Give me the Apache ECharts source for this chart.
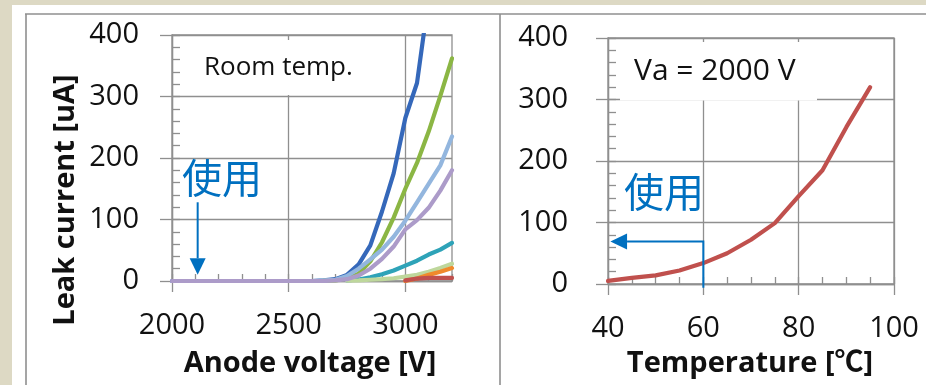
<!DOCTYPE html>
<html><head><meta charset="utf-8">
<script src="https://cdn.jsdelivr.net/npm/echarts@6/dist/echarts.min.js"></script>
<style>html,body{margin:0;padding:0;background:#fff}#c{width:926px;height:385px}</style>
</head><body><div id="c"></div>
<script>
// ---- Left chart data (Room temp.) ----
const voltage = [2000,2050,2100,2150,2200,2250,2300,2350,2400,2450,2500,2550,2600,2650,2700,2750,2800,2850,2900,2950,3000,3050,3100,3150,3200];
const n = null;
const leakBlue      = [0,0,0,0,0,0,n,n,n,n,n,n,0,1,3,10,27,58,113,175,265,322,460,n,n];
const leakGreen     = [n,n,n,n,n,n,n,n,n,n,n,n,n,0.5,1,4,12,32,63,103,150,192,243,301,362];
const leakLightBlue = [n,n,n,n,n,n,n,n,n,n,n,n,0,1,2,8,20,35,51,72,98,128,158,188,235];
const leakPurple    = [0,0,0,0,0,0,0,0,0,0,0,0,0,0,1,3,9,20,36,56,84,99,119,147,180];
const leakTeal      = [n,n,n,n,n,n,n,n,n,n,n,n,n,n,n,1,2.5,6,11,17,25,33,43,51,62];
const leakLightGrn  = [n,n,n,n,n,n,n,n,n,n,n,n,n,n,n,0.5,1,2,3,4.5,7,10,15,21,28];
const leakOrange    = [n,n,n,n,n,n,n,n,n,n,n,n,n,n,n,n,n,n,n,n,0,4,10,15,21];
const leakRed       = [n,n,n,n,n,n,n,n,n,n,n,n,n,n,n,n,n,n,n,n,1,4,5,5,5];
const leftSeries = [
  {name:'s1', vals: leakBlue,      color:'#3568BA'},
  {name:'s2', vals: leakGreen,     color:'#8BB644'},
  {name:'s3', vals: leakLightBlue, color:'#93B6DE'},
  {name:'s5', vals: leakTeal,      color:'#2EA3B8'},
  {name:'s6', vals: leakLightGrn,  color:'#BED79C'},
  {name:'s7', vals: leakOrange,    color:'#F08A2C'},
  {name:'s4', vals: leakPurple,    color:'#AC9BC9'},
  {name:'s8', vals: leakRed,       color:'#C0504D'}
];
// ---- Right chart data (Va = 2000 V) ----
const temperature = [40,45,50,55,60,65,70,75,80,85,90,95];
const leakTemp    = [5,10,14,22,34,50,72,99,143,185,255,320];

const leftXTicks = [2000,2500,3000];

const FONT = '"Open Sans", "Noto Sans CJK JP", sans-serif';
const GRID_C = '#8f8f8f';
const LW = 1.3;
const TXT = '#111111';
const LBL = {show:true, fontSize:29, fontFamily:FONT, color:TXT, formatter: v => String(v)};

function mainX(gi, min, max, interval, extra) {
  return Object.assign({
    type:'value', gridIndex:gi, min:min, max:max, interval:interval, position:'bottom',
    axisLine:{show:true, onZero:false, lineStyle:{color:GRID_C, width:LW}},
    axisTick:{show:true, length:11, lineStyle:{color:GRID_C, width:LW}},
    axisLabel:Object.assign({}, LBL, {margin:30}),
    splitLine:{show:true, lineStyle:{color:GRID_C, width:LW}}
  }, extra||{});
}
function minorX(gi, min, max, interval) {
  return {type:'value', gridIndex:gi, min:min, max:max, interval:interval, position:'bottom',
    axisLine:{show:false, onZero:false}, axisTick:{show:true, inside:true, length:7, lineStyle:{color:GRID_C, width:LW}},
    axisLabel:{show:false}, splitLine:{show:false}};
}
function mainY(gi, margin) {
  return {type:'value', gridIndex:gi, min:0, max:400, interval:100, position:'left',
    axisLine:{show:true, onZero:false, lineStyle:{color:GRID_C, width:LW}},
    axisTick:{show:true, length:12, lineStyle:{color:GRID_C, width:LW}},
    axisLabel:Object.assign({}, LBL, {margin:margin}),
    splitLine:{show:true, lineStyle:{color:GRID_C, width:LW}}};
}
function minorY(gi) {
  return {type:'value', gridIndex:gi, min:0, max:400, interval:20, position:'left',
    axisLine:{show:false, onZero:false}, axisTick:{show:true, inside:true, length:8, lineStyle:{color:GRID_C, width:LW}},
    axisLabel:{show:false}, splitLine:{show:false}};
}

const series = leftSeries.map(s => ({
  type:'line', name:s.name, xAxisIndex:0, yAxisIndex:0, showSymbol:false, symbol:'none',
  connectNulls:false, clip:true, smooth:false,
  lineStyle:{color:s.color, width:4.2, cap:'round', join:'round'}, itemStyle:{color:s.color},
  data: voltage.map((v,i) => [v, s.vals[i]])
}));
series.push({
  type:'line', name:'temp', xAxisIndex:2, yAxisIndex:2, showSymbol:false, symbol:'none', clip:true,
  lineStyle:{color:'#C0504D', width:4.2, cap:'round', join:'round'}, itemStyle:{color:'#C0504D'},
  data: temperature.map((t,i) => [t, leakTemp[i]])
});

const chart = echarts.init(document.getElementById('c'), null, {renderer:'canvas'});
chart.setOption({
  backgroundColor:'#ffffff',
  animation:false,
  grid:[
    {left:172, top:35, width:280, height:246, show:true, borderColor:GRID_C, borderWidth:LW, backgroundColor:'transparent', containLabel:false},
    {left:608, top:38, width:286, height:246, show:true, borderColor:GRID_C, borderWidth:LW, backgroundColor:'transparent', containLabel:false}
  ],
  xAxis:[
    mainX(0, 2000, 3200, 500, {
      axisTick:{show:true, length:11, customValues:leftXTicks, lineStyle:{color:GRID_C, width:LW}},
      axisLabel:Object.assign({}, LBL, {margin:30, customValues:leftXTicks})
    }),
    minorX(0, 2000, 3200, 100),
    mainX(1, 40, 100, 20),
    minorX(1, 40, 100, 5)
  ],
  yAxis:[ mainY(0, 33), minorY(0), mainY(1, 40), minorY(1) ],
  series: series
});

// ---- annotations (anchored in data coordinates) ----
const p = (gi, x, y) => chart.convertToPixel({xAxisIndex: gi===0?0:2, yAxisIndex: gi===0?0:2}, [x, y]);
const BLUE = '#0070C0';
const la0 = p(0, 2110, 128), la1 = p(0, 2110, 37), laTip = p(0, 2110, 10);
const ra0 = p(1, 60, -6), ra1 = p(1, 60, 69), ra2 = p(1, 44, 69), raTip = p(1, 40.5, 69);

const graphics = [
  {type:'rect', z:0, shape:{x:0, y:0, width:926, height:5}, style:{fill:'#DDD9C4'}},
  {type:'rect', z:0, shape:{x:0, y:0, width:12, height:385}, style:{fill:'#DDD9C4'}},
  {type:'line', z:0, shape:{x1:25, y1:14, x2:926, y2:14}, style:{stroke:'#8f8f8f', lineWidth:1.6}},
  {type:'line', z:0, shape:{x1:26, y1:14, x2:26, y2:385}, style:{stroke:'#8f8f8f', lineWidth:1.6}},
  {type:'line', z:0, shape:{x1:500, y1:14, x2:500, y2:385}, style:{stroke:'#8f8f8f', lineWidth:1.6}},
  // text boxes
  {type:'rect', z:1, shape:{x:184, y:40, width:212, height:55}, style:{fill:'#fff'}},
  {type:'text', z:5, style:{x:204, y:68, text:'Room temp.', fontSize:26, fontFamily:FONT, fill:TXT, textVerticalAlign:'middle', textAlign:'left'}},
  {type:'rect', z:1, shape:{x:620, y:42, width:197, height:58.5}, style:{fill:'#fff'}},
  {type:'text', z:5, style:{x:634, y:71, text:'Va = 2000 V', fontSize:30, fontFamily:FONT, fill:TXT, textVerticalAlign:'middle', textAlign:'left'}},
  // axis titles
  {type:'text', z:5, x:66, y:200, rotation:Math.PI/2, style:{x:0, y:0, text:'Leak current [uA]', fontSize:29, fontWeight:'bold', fontFamily:FONT, fill:TXT, textAlign:'center', textVerticalAlign:'middle'}},
  {type:'text', z:5, style:{x:310, y:364, text:'Anode voltage [V]', fontSize:29, fontWeight:'bold', fontFamily:FONT, fill:TXT, textAlign:'center', textVerticalAlign:'middle'}},
  {type:'text', z:5, style:{x:750, y:364, text:'Temperature [℃]', fontSize:29, fontWeight:'bold', fontFamily:FONT, fill:TXT, textAlign:'center', textVerticalAlign:'middle'}},
  // 使用 labels
  {type:'text', z:6, style:{x:182, y:178, text:'使用', fontSize:40, fontFamily:'"Noto Sans CJK JP", sans-serif', fill:BLUE, textAlign:'left', textVerticalAlign:'middle'}},
  {type:'text', z:6, style:{x:624, y:192, text:'使用', fontSize:40, fontFamily:'"Noto Sans CJK JP", sans-serif', fill:BLUE, textAlign:'left', textVerticalAlign:'middle'}},
  // arrows
  {type:'line', z:6, shape:{x1:la0[0], y1:la0[1], x2:la1[0], y2:la1[1]}, style:{stroke:BLUE, lineWidth:2}},
  {type:'polygon', z:6, shape:{points:[[la1[0]-8, la1[1]], [la1[0]+8, la1[1]], [laTip[0], laTip[1]]]}, style:{fill:BLUE}},
  {type:'polyline', z:6, shape:{points:[ra0, ra1, ra2]}, style:{stroke:BLUE, lineWidth:2, fill:null}},
  {type:'polygon', z:6, shape:{points:[[ra2[0], ra2[1]-8], [ra2[0], ra2[1]+8], [raTip[0], raTip[1]]]}, style:{fill:BLUE}}
];
chart.setOption({graphic: graphics});
</script></body></html>
